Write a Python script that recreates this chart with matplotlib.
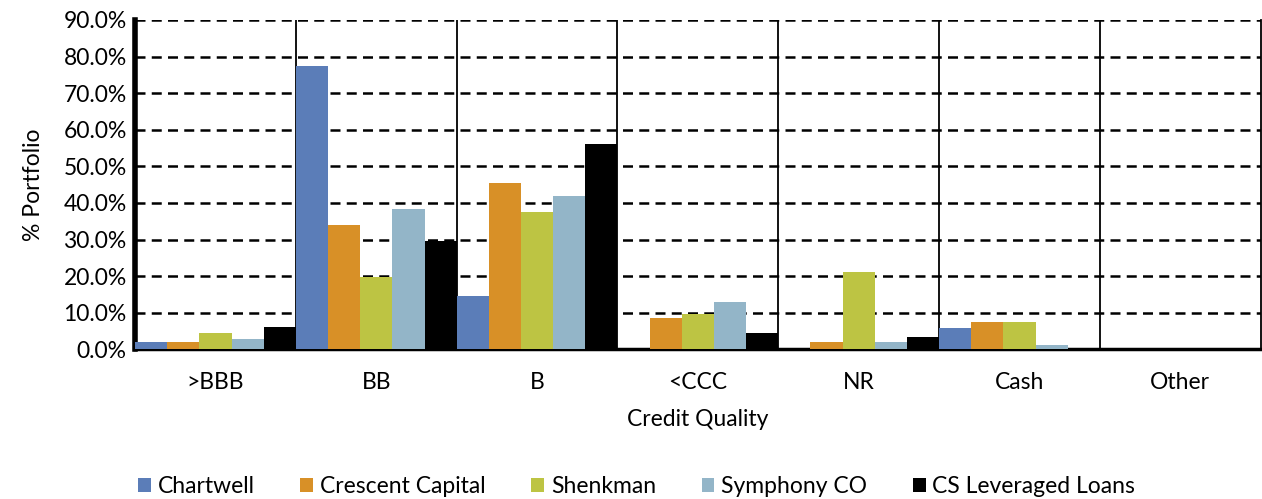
import numpy as np
import matplotlib.pyplot as plt
from matplotlib.ticker import FuncFormatter

plt.rcParams['font.family'] = ['Lato', 'DejaVu Sans']

categories = ['>BBB', 'BB', 'B', '<CCC', 'NR', 'Cash', 'Other']
chartwell = [1.9, 77.5, 14.6, 0.0, 0.0, 5.7, 0.0]
crescent = [2.1, 33.9, 45.5, 8.5, 2.0, 7.5, 0.0]
shenkman = [4.4, 19.7, 37.5, 9.7, 21.1, 7.5, 0.0]
symphony = [2.8, 38.3, 41.9, 12.8, 1.9, 1.3, 0.2]
cs_loans = [6.0, 29.5, 56.1, 4.4, 3.4, 0.0, 0.2]

series = [
    ('Chartwell', chartwell, '#5b7db8'),
    ('Crescent Capital', crescent, '#d89027'),
    ('Shenkman', shenkman, '#bdc443'),
    ('Symphony CO', symphony, '#93b5c8'),
    ('CS Leveraged Loans', cs_loans, '#000000'),
]

fs = 16.5

fig = plt.figure(figsize=(12.62, 4.99), dpi=100)
ax = fig.add_axes([0.107, 0.3, 0.892, 0.66])

x = np.arange(len(categories))
w = 0.2
for i, (name, vals, col) in enumerate(series):
    ax.bar(x + (i - 2) * w, vals, width=w, color=col, linewidth=0,
           label=name, zorder=3)

ax.set_xlim(-0.5, len(categories) - 0.5)
ax.set_ylim(0, 90)
ax.set_yticks(np.arange(0, 91, 10))
ax.yaxis.set_major_formatter(FuncFormatter(lambda v, p: f'{v:.1f}%'))
ax.set_xticks(x)
ax.set_xticklabels(categories)
ax.tick_params(axis='both', length=0, labelsize=fs)
ax.tick_params(axis='x', pad=16)
ax.tick_params(axis='y', pad=6)

# dashed horizontal grid
ax.yaxis.grid(True, color='black', linestyle=(0, (4, 2.5)), linewidth=1.8, zorder=1)
# solid separators between categories
for b in np.arange(0.5, len(categories) - 0.5, 1):
    ax.axvline(b, color='black', linewidth=1.3, zorder=2)

ax.spines['top'].set_visible(False)
ax.spines['left'].set_linewidth(4)
ax.spines['bottom'].set_linewidth(2.5)
ax.spines['right'].set_linewidth(1.3)

ax.set_xlabel('Credit Quality', fontsize=fs, labelpad=12)
ax.set_ylabel('% Portfolio', fontsize=fs, labelpad=14)

fig.legend(loc='lower left', bbox_to_anchor=(0.093, -0.038), ncol=5, frameon=False,
           fontsize=fs, handlelength=0.55, handleheight=0.55, handletextpad=0.3,
           columnspacing=2.0)

fig.savefig('out.png', dpi=100)
